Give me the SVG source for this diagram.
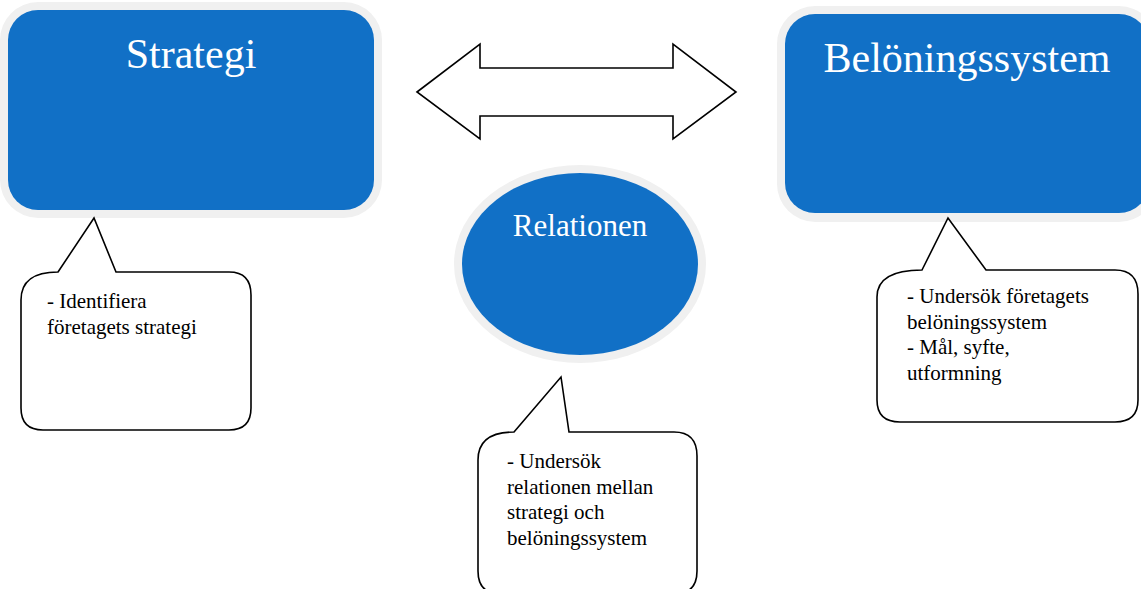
<svg xmlns="http://www.w3.org/2000/svg" width="1141" height="589" viewBox="0 0 1141 589">
  <style>
    .halo { fill: #f0f0f0; }
    .node { fill: #1170c6; }
    .title { font-family: "Liberation Serif", "Times New Roman", serif; fill: #ffffff; text-anchor: middle; }
    .callout { fill: #ffffff; stroke: #000000; stroke-width: 1.6; stroke-linejoin: miter; }
    .note { font-family: "Liberation Serif", "Times New Roman", serif; font-size: 21px; fill: #000000; }
    .arrow { fill: #ffffff; stroke: #000000; stroke-width: 1.6; stroke-linejoin: miter; }
  </style>
  <rect width="1141" height="589" fill="#ffffff"/>

  <!-- Strategi box -->
  <g id="strategi">
    <rect class="halo" x="0" y="2" width="382" height="216" rx="38" ry="38"/>
    <rect class="node" x="8" y="10" width="366" height="200" rx="30" ry="30"/>
    <text class="title" x="191" y="68" font-size="42">Strategi</text>
  </g>

  <!-- Belöningssystem box -->
  <g id="beloningssystem">
    <rect class="halo" x="777" y="6" width="380" height="216" rx="38" ry="38"/>
    <rect class="node" x="785" y="14" width="364" height="199" rx="30" ry="30"/>
    <text class="title" x="967" y="72" font-size="42">Belöningssystem</text>
  </g>

  <!-- Relationen ellipse -->
  <g id="relationen">
    <ellipse class="halo" cx="580" cy="264" rx="126" ry="99"/>
    <ellipse class="node" cx="580" cy="264" rx="118" ry="91"/>
    <text class="title" x="580" y="236" font-size="31">Relationen</text>
  </g>

  <!-- Connectors -->
  <g id="connectors">
    <path class="arrow" d="M417 92 L480 44 L480 68 L673 68 L673 44 L736 92 L673 139 L673 116 L480 116 L480 139 Z"/>
  </g>

  <!-- Callout: strategy -->
  <g id="note-strategi">
    <path class="callout" d="M58 272 L94 218 L116 272 L229 272 Q251 272 251 295 L251 408 Q251 430 229 430 L43 430 Q21 430 21 408 L21 300 Q21 272 58 272 Z"/>
    <text class="note" x="47" y="308">- Identifiera</text>
    <text class="note" x="47" y="334">företagets strategi</text>
  </g>

  <!-- Callout: reward system -->
  <g id="note-beloningssystem">
    <path class="callout" d="M922 270 L948 218 L986 270 L1115 270 Q1138 270 1138 294 L1138 400 Q1138 422 1115 422 L900 422 Q877 422 877 400 L877 297 Q877 270 922 270 Z"/>
    <text class="note" x="907" y="303">- Undersök företagets</text>
    <text class="note" x="907" y="329">belöningssystem</text>
    <text class="note" x="907" y="354">- Mål, syfte,</text>
    <text class="note" x="907" y="380">utformning</text>
  </g>

  <!-- Callout: relation -->
  <g id="note-relationen">
    <path class="callout" d="M514 432 L561 377 L569 432 L674 432 Q697 432 697 456 L697 571 Q697 594 674 594 L501 594 Q478 594 478 571 L478 460 Q478 432 514 432 Z"/>
    <text class="note" x="507" y="468">- Undersök</text>
    <text class="note" x="507" y="494">relationen mellan</text>
    <text class="note" x="507" y="519">strategi och</text>
    <text class="note" x="507" y="545">belöningssystem</text>
  </g>
</svg>
